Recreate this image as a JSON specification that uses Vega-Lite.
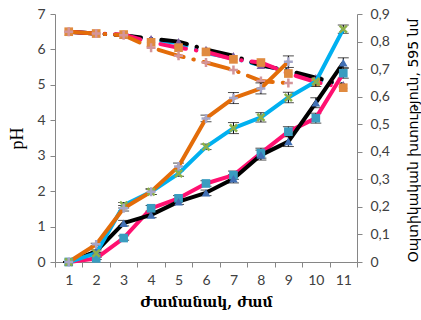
{
  "$schema": "https://vega.github.io/schema/vega-lite/v6.json",
  "autosize": {"type": "none"},
  "width": 302,
  "height": 248,
  "padding": {"left": 55, "top": 14, "right": 64, "bottom": 58},
  "background": "white",
  "config": {
    "view": {"stroke": null},
    "axis": {"grid": false, "domainColor": "#868686", "tickColor": "#868686", "labelFont": "Lato", "labelFontSize": 14, "labelColor": "#404040", "tickSize": 5}
  },
  "datasets": {
    "ph": [
      {"hour": 1, "series": "pH cyan", "ph": 6.5}, {"hour": 2, "series": "pH cyan", "ph": 6.45}, {"hour": 3, "series": "pH cyan", "ph": 6.4}, {"hour": 4, "series": "pH cyan", "ph": 6.27}, {"hour": 5, "series": "pH cyan", "ph": 6.18}, {"hour": 6, "series": "pH cyan", "ph": 5.9}, {"hour": 7, "series": "pH cyan", "ph": 5.75}, {"hour": 8, "series": "pH cyan", "ph": 5.55}, {"hour": 9, "series": "pH cyan", "ph": 5.4}, {"hour": 10, "series": "pH cyan", "ph": 5.15}, {"hour": 11, "series": "pH cyan", "ph": 5.0},
      {"hour": 1, "series": "pH black", "ph": 6.5}, {"hour": 2, "series": "pH black", "ph": 6.45}, {"hour": 3, "series": "pH black", "ph": 6.4}, {"hour": 4, "series": "pH black", "ph": 6.3}, {"hour": 5, "series": "pH black", "ph": 6.22}, {"hour": 6, "series": "pH black", "ph": 6.0}, {"hour": 7, "series": "pH black", "ph": 5.82}, {"hour": 8, "series": "pH black", "ph": 5.55}, {"hour": 9, "series": "pH black", "ph": 5.4}, {"hour": 10, "series": "pH black", "ph": 5.2}, {"hour": 11, "series": "pH black", "ph": 5.0},
      {"hour": 1, "series": "pH pink", "ph": 6.5}, {"hour": 2, "series": "pH pink", "ph": 6.45}, {"hour": 3, "series": "pH pink", "ph": 6.42}, {"hour": 4, "series": "pH pink", "ph": 6.2}, {"hour": 5, "series": "pH pink", "ph": 6.05}, {"hour": 6, "series": "pH pink", "ph": 5.93}, {"hour": 7, "series": "pH pink", "ph": 5.72}, {"hour": 8, "series": "pH pink", "ph": 5.63}, {"hour": 9, "series": "pH pink", "ph": 5.32}, {"hour": 10, "series": "pH pink", "ph": 5.08}, {"hour": 11, "series": "pH pink", "ph": 4.92},
      {"hour": 1, "series": "pH orange", "ph": 6.5}, {"hour": 2, "series": "pH orange", "ph": 6.45}, {"hour": 3, "series": "pH orange", "ph": 6.4}, {"hour": 4, "series": "pH orange", "ph": 6.05}, {"hour": 5, "series": "pH orange", "ph": 5.82}, {"hour": 6, "series": "pH orange", "ph": 5.63}, {"hour": 7, "series": "pH orange", "ph": 5.42}, {"hour": 8, "series": "pH orange", "ph": 5.11}, {"hour": 9, "series": "pH orange", "ph": 5.05}
    ],
    "od": [
      {"hour": 1, "series": "OD pink", "od": 0, "err": 0}, {"hour": 2, "series": "OD pink", "od": 0.013, "err": 0.004}, {"hour": 3, "series": "OD pink", "od": 0.087, "err": 0.008}, {"hour": 4, "series": "OD pink", "od": 0.195, "err": 0.01}, {"hour": 5, "series": "OD pink", "od": 0.231, "err": 0.01}, {"hour": 6, "series": "OD pink", "od": 0.285, "err": 0.01}, {"hour": 7, "series": "OD pink", "od": 0.315, "err": 0.015}, {"hour": 8, "series": "OD pink", "od": 0.395, "err": 0.018}, {"hour": 9, "series": "OD pink", "od": 0.473, "err": 0.018}, {"hour": 10, "series": "OD pink", "od": 0.522, "err": 0.018}, {"hour": 11, "series": "OD pink", "od": 0.685, "err": 0.018},
      {"hour": 1, "series": "OD black", "od": 0, "err": 0}, {"hour": 2, "series": "OD black", "od": 0.039, "err": 0.005}, {"hour": 3, "series": "OD black", "od": 0.141, "err": 0.01}, {"hour": 4, "series": "OD black", "od": 0.171, "err": 0.01}, {"hour": 5, "series": "OD black", "od": 0.219, "err": 0.01}, {"hour": 6, "series": "OD black", "od": 0.251, "err": 0.01}, {"hour": 7, "series": "OD black", "od": 0.302, "err": 0.015}, {"hour": 8, "series": "OD black", "od": 0.388, "err": 0.018}, {"hour": 9, "series": "OD black", "od": 0.437, "err": 0.018}, {"hour": 10, "series": "OD black", "od": 0.578, "err": 0.018}, {"hour": 11, "series": "OD black", "od": 0.723, "err": 0.018},
      {"hour": 1, "series": "OD cyan", "od": 0, "err": 0}, {"hour": 2, "series": "OD cyan", "od": 0.032, "err": 0.004}, {"hour": 3, "series": "OD cyan", "od": 0.206, "err": 0.01}, {"hour": 4, "series": "OD cyan", "od": 0.255, "err": 0.01}, {"hour": 5, "series": "OD cyan", "od": 0.321, "err": 0.01}, {"hour": 6, "series": "OD cyan", "od": 0.418, "err": 0.01}, {"hour": 7, "series": "OD cyan", "od": 0.486, "err": 0.02}, {"hour": 8, "series": "OD cyan", "od": 0.525, "err": 0.017}, {"hour": 9, "series": "OD cyan", "od": 0.597, "err": 0.019}, {"hour": 10, "series": "OD cyan", "od": 0.655, "err": 0.018}, {"hour": 11, "series": "OD cyan", "od": 0.845, "err": 0.015},
      {"hour": 1, "series": "OD orange", "od": 0, "err": 0}, {"hour": 2, "series": "OD orange", "od": 0.064, "err": 0.004}, {"hour": 3, "series": "OD orange", "od": 0.195, "err": 0.01}, {"hour": 4, "series": "OD orange", "od": 0.255, "err": 0.01}, {"hour": 5, "series": "OD orange", "od": 0.347, "err": 0.012}, {"hour": 6, "series": "OD orange", "od": 0.521, "err": 0.012}, {"hour": 7, "series": "OD orange", "od": 0.595, "err": 0.02}, {"hour": 8, "series": "OD orange", "od": 0.63, "err": 0.02}, {"hour": 9, "series": "OD orange", "od": 0.727, "err": 0.021}
    ]
  },
  "layer": [
    {
      "data": {"name": "ph"},
      "encoding": {
        "x": {"field": "hour", "type": "ordinal", "scale": {"type": "band", "paddingInner": 0, "paddingOuter": 0},
              "axis": {"title": "Ժամանակ, ժամ", "labelAngle": 0, "tickBand": "extent", "titleFont": "DejaVu Serif", "titleFontSize": 14, "titleFontWeight": "bold", "titleColor": "#000000", "labelPadding": 6, "titlePadding": 8}},
        "y": {"field": "ph", "type": "quantitative", "scale": {"domain": [0, 7], "nice": false},
              "axis": {"orient": "left", "values": [0, 1, 2, 3, 4, 5, 6, 7], "title": "pH", "titleFont": "Liberation Serif", "titleFontSize": 18, "titleFontWeight": "normal", "titleColor": "#000000", "labelPadding": 5, "titlePadding": 10}}
      },
      "layer": [
        {"mark": {"type": "line", "strokeWidth": 4, "strokeCap": "round", "strokeDash": [26, 10, 0.5, 10]},
         "encoding": {"stroke": {"field": "series", "type": "nominal", "legend": null,
           "scale": {"domain": ["OD pink", "OD black", "OD cyan", "OD orange", "pH cyan", "pH black", "pH pink", "pH orange"],
                     "range": ["#FF1070", "#000000", "#00B0F0", "#E36C09", "#00B0F0", "#000000", "#FF1070", "#E36C09"]}}}},
        {"transform": [{"filter": {"field": "series", "oneOf": ["pH black", "pH pink"]}}],
         "mark": {"type": "point", "filled": true, "size": 75, "opacity": 1},
         "encoding": {
           "color": {"field": "series", "type": "nominal", "legend": null,
             "scale": {"domain": ["OD pink", "OD black", "OD cyan", "OD orange", "pH cyan", "pH black", "pH pink", "pH orange"],
                       "range": ["#3A9CC0", "#4170B5", "#8DB04A", "#A6A6C8", "#00B0F0", "#7D5FA0", "#E08A3F", "#D4959A"]}},
           "shape": {"field": "series", "type": "nominal", "legend": null,
             "scale": {"domain": ["OD pink", "OD black", "OD cyan", "OD orange", "pH cyan", "pH black", "pH pink", "pH orange"],
                       "range": ["square", "triangle-up", "M-0.8,-0.8L0.8,0.8M-0.8,0.8L0.8,-0.8", "M0,-1L0,1M-1,0L1,0", "circle", "triangle-up", "square", "M0,-1L0,1M-1,0L1,0"]}}}},
        {"transform": [{"filter": {"field": "series", "oneOf": ["pH orange"]}}],
         "mark": {"type": "point", "filled": false, "size": 80, "strokeWidth": 2.5, "opacity": 1},
         "encoding": {
           "color": {"field": "series", "type": "nominal", "legend": null},
           "shape": {"field": "series", "type": "nominal", "legend": null}}}
      ]
    },
    {
      "data": {"name": "od"},
      "encoding": {
        "x": {"field": "hour", "type": "ordinal", "scale": {"type": "band", "paddingInner": 0, "paddingOuter": 0},
              "axis": {"title": "Ժամանակ, ժամ", "labelAngle": 0, "tickBand": "extent", "titleFont": "DejaVu Serif", "titleFontSize": 14, "titleFontWeight": "bold", "titleColor": "#000000", "labelPadding": 6, "titlePadding": 8}},
        "y": {"field": "od", "type": "quantitative", "scale": {"domain": [0, 0.9], "nice": false},
              "axis": {"orient": "right", "values": [0, 0.1, 0.2, 0.3, 0.4, 0.5, 0.6, 0.7, 0.8, 0.9],
                       "labelExpr": "datum.value == 0 ? '0' : replace(format(datum.value, '.1f'), '.', ',')",
                       "title": "Օպտիկական խտություն, 595 նմ", "titleFont": "DejaVu Sans", "titleFontSize": 14, "titleFontWeight": "normal", "titleColor": "#000000",
                       "titleAngle": 270, "titleBaseline": "middle", "titleAlign": "center", "titleX": 56, "titleY": 126, "labelPadding": 8}}
      },
      "layer": [
        {"mark": {"type": "errorbar", "ticks": {"size": 11, "color": "#000000"}, "rule": {"color": "#000000"}, "thickness": 1},
         "encoding": {"yError": {"field": "err"}}},
        {"mark": {"type": "line", "strokeWidth": 4, "strokeJoin": "round"},
         "encoding": {"stroke": {"field": "series", "type": "nominal", "legend": null}}},
        {"transform": [{"filter": {"field": "series", "oneOf": ["OD pink", "OD black"]}}],
         "mark": {"type": "point", "filled": true, "size": 75, "opacity": 1},
         "encoding": {
           "color": {"field": "series", "type": "nominal", "legend": null},
           "shape": {"field": "series", "type": "nominal", "legend": null}}},
        {"transform": [{"filter": {"field": "series", "oneOf": ["OD cyan", "OD orange"]}}],
         "mark": {"type": "point", "filled": false, "size": 80, "strokeWidth": 2.5, "opacity": 1},
         "encoding": {
           "color": {"field": "series", "type": "nominal", "legend": null},
           "shape": {"field": "series", "type": "nominal", "legend": null}}}
      ]
    }
  ],
  "resolve": {"scale": {"y": "independent"}}
}
